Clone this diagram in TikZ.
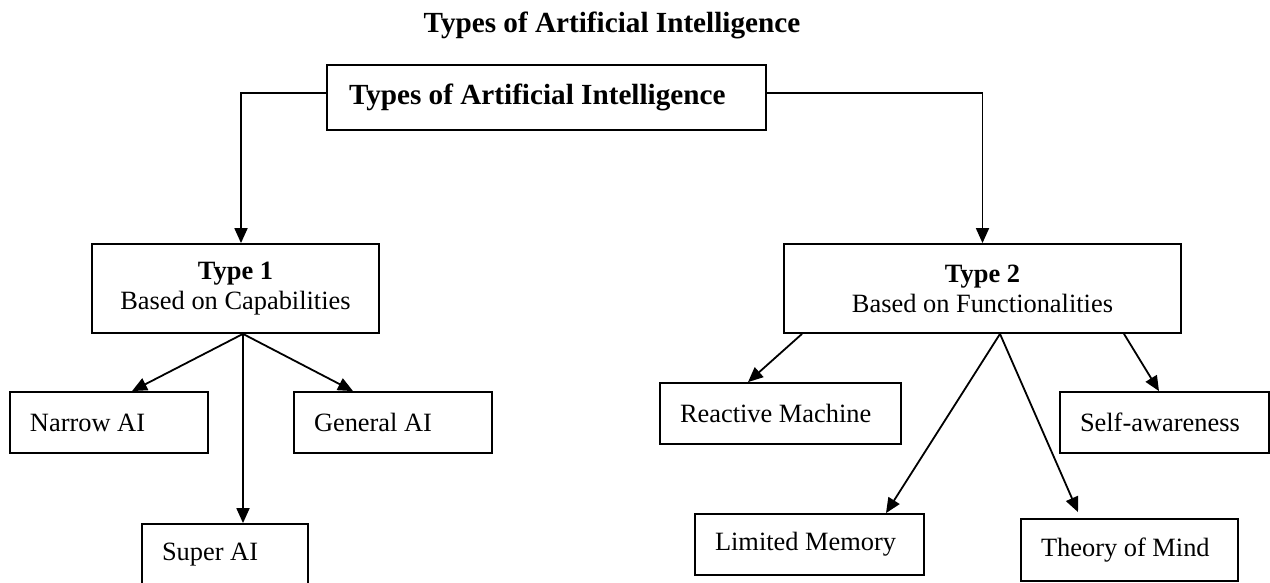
\documentclass[tikz,border=0pt]{standalone}
\usepackage{fontspec}
\setmainfont{Liberation Serif}
\usetikzlibrary{arrows.meta, positioning}

\begin{document}
\begin{tikzpicture}[
    % GLOBAL CFG
    x=1pt, y=-1pt,
    font=\fontsize{26.4}{30}\selectfont,
    >={Triangle[length=15pt, width=13pt]},
    % Styles
    heading/.style={% For the title over the chart
        font=\fontsize{29.2}{34}\selectfont\bfseries,
        inner sep=0pt,
        },
    root/.style={% For the top box
        rectangle,
        draw,
        line width=1.8pt,
        align=flush left,
        inner xsep=22pt,
        inner ysep=0pt,
        font=\fontsize{29.2}{34}\selectfont\bfseries,
        },
    typebox/.style={% For the two type boxes
        rectangle,
        draw,
        line width=1.8pt,
        align=center,
        inner sep=0pt,
        minimum height=89pt,
        },
    leaf/.style={% For the end boxes
        rectangle,
        draw,
        line width=1.8pt,
        align=flush left,
        inner xsep=20pt,
        inner ysep=0pt,
        minimum height=61pt,
        },
    ArrowL/.style={% Plain arrows
        ->,
        line width=1.8pt,
        },
    ]

    \useasboundingbox (0,0) rectangle (1270,583);

    % Title
    \node [heading, anchor=base] (title) at (612,33) {Types of Artificial Intelligence};

    % Top box
    \node [root, text width=395pt, minimum height=65pt] (ai) at (546.5,97.5) {Types of Artificial Intelligence};

    % The two types
    \node [typebox, minimum width=287pt] (type1) at (235.5,288.5) {\textbf{Type 1}\\Based on Capabilities};
    \node [typebox, minimum width=397pt] (type2) at (982.5,288.5) {\textbf{Type 2}\\Based on Functionalities};

    % Leaves of type 1
    \node [leaf, text width=158pt] (narrow) at (109,422.5) {Narrow~AI};
    \node [leaf, text width=158pt] (general) at (393,422.5) {General~AI};
    \node [leaf, text width=126pt, minimum height=62pt] (super) at (225,555) {Super~AI};

    % Leaves of type 2
    \node [leaf, text width=201pt] (reactive) at (780.5,413.5) {Reactive~Machine};
    \node [leaf, text width=169pt] (self) at (1164.5,422.5) {Self-awareness};
    \node [leaf, text width=189pt] (limited) at (809.5,544.5) {Limited~Memory};
    \node [leaf, text width=177pt, minimum height=62pt] (theory) at (1129.5,550) {Theory~of~Mind};

% Start connecting all.
    \draw [ArrowL] ([yshift=4.5pt]ai.west) -| ([xshift=5.5pt]type1.north);
    \draw [ArrowL] ([yshift=4.5pt]ai.east) -| (type2.north);

    % Type 1
    \draw [ArrowL] ([xshift=7.5pt]type1.south) -- ([xshift=23pt]narrow.north);
    \draw [ArrowL] ([xshift=7.5pt]type1.south) -- ([xshift=18pt]super.north);
    \draw [ArrowL] ([xshift=7.5pt]type1.south) -- ([xshift=-40pt]general.north);

    % Type 2
    \draw [ArrowL] ([xshift=-180.5pt]type2.south) -- ([xshift=-32.5pt]reactive.north);
    \draw [ArrowL] ([xshift=17.5pt]type2.south) -- ([xshift=76.5pt]limited.north);
    \draw [ArrowL] ([xshift=17.5pt]type2.south) -- ([xshift=-51.5pt, yshift=6pt]theory.north);
    \draw [ArrowL] ([xshift=141.5pt]type2.south) -- ([xshift=-5.5pt]self.north);

\end{tikzpicture}
\end{document}
